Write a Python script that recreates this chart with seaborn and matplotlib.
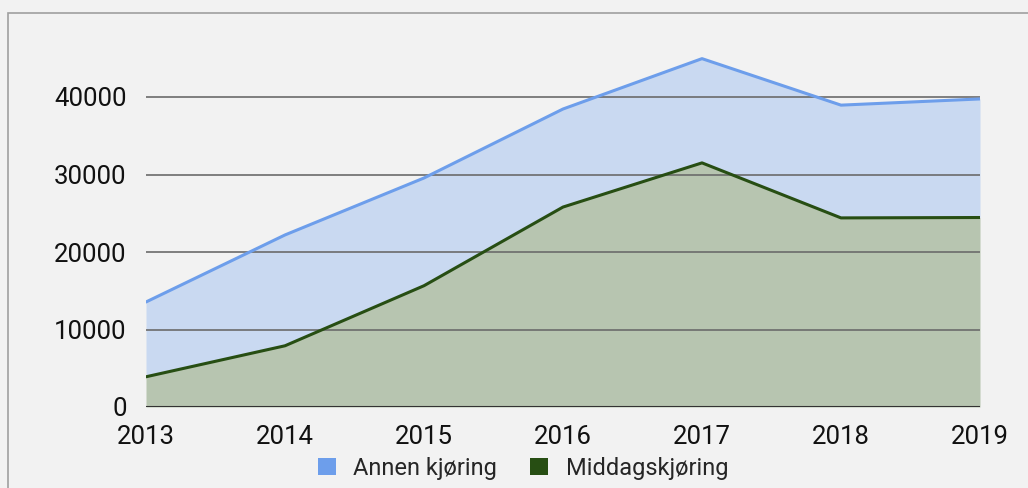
import numpy as np
import pandas as pd
import matplotlib
matplotlib.use("Agg")
import matplotlib.pyplot as plt
import seaborn as sns
from matplotlib.patches import Rectangle, Patch

sns.set_theme(style="white")
plt.rcParams['font.family'] = ['Roboto', 'DejaVu Sans']

# data (stacked: Annen kjøring sits on top of Middagskjøring)
years = [2013, 2014, 2015, 2016, 2017, 2018, 2019]
middag = [3900, 7900, 15650, 25800, 31500, 24400, 24450]
annen = [9650, 14300, 13900, 12650, 13450, 14550, 15300]
series_names = ['Annen kjøring', 'Middagskjøring']
yticks = [0, 10000, 20000, 30000, 40000]

df = pd.DataFrame({'year': years, 'middag': middag, 'annen': annen})
df['total'] = df['middag'] + df['annen']

blue_line, blue_fill = '#6d9eeb', '#c9d9f1'
green_line, green_fill = '#274e13', '#b7c5b0'
bg = '#f2f2f2'

fig = plt.figure(figsize=(10.28, 4.88), dpi=100, facecolor=bg)
ax = fig.add_axes([146 / 1028, 1 - 407 / 488, (980 - 146) / 1028, (407 - 35) / 488])
ax.set_facecolor(bg)

ax.fill_between(df['year'], df['middag'], df['total'], color=blue_fill, lw=0, zorder=1)
ax.fill_between(df['year'], 0, df['middag'], color=green_fill, lw=0, zorder=1)

for y in yticks[1:]:
    ax.axhline(y, color='#6b6b6b', lw=1.2, zorder=2)
ax.axhline(0, color='#333333', lw=1.5, zorder=4)

sns.lineplot(data=df, x='year', y='total', color=blue_line, lw=2.2, ax=ax, zorder=3)
sns.lineplot(data=df, x='year', y='middag', color=green_line, lw=2.2, ax=ax, zorder=3)

ax.set_xlim(2013, 2019)
ax.set_ylim(0, 48000)
ax.set_xticks(years)
ax.set_xticklabels([str(y) for y in years], fontsize=18.5, color='#111111')
ax.set_yticks(yticks)
ax.set_yticklabels([str(y) for y in yticks], fontsize=18.5, color='#111111')
ax.tick_params(axis='x', length=0, pad=13)
ax.tick_params(axis='y', length=0, pad=14)
ax.set_xlabel('')
ax.set_ylabel('')
for s in ax.spines.values():
    s.set_visible(False)

handles = [Patch(facecolor=blue_line, edgecolor='none'), Patch(facecolor=green_line, edgecolor='none')]
fig.legend(handles, series_names, loc='center', bbox_to_anchor=(523 / 1028, 1 - 468 / 488), ncol=2,
           frameon=False, fontsize=17, handlelength=0.75, handleheight=0.75, handletextpad=0.75,
           columnspacing=1.4, borderpad=0)

fig.patches.append(Rectangle((8 / 1028, -0.01), 1.1, 1 - 13 / 488 + 0.01, transform=fig.transFigure,
                             fill=False, edgecolor='#a0a0a0', lw=1.2, zorder=0))

fig.savefig('out.png', dpi=100, facecolor=bg)
